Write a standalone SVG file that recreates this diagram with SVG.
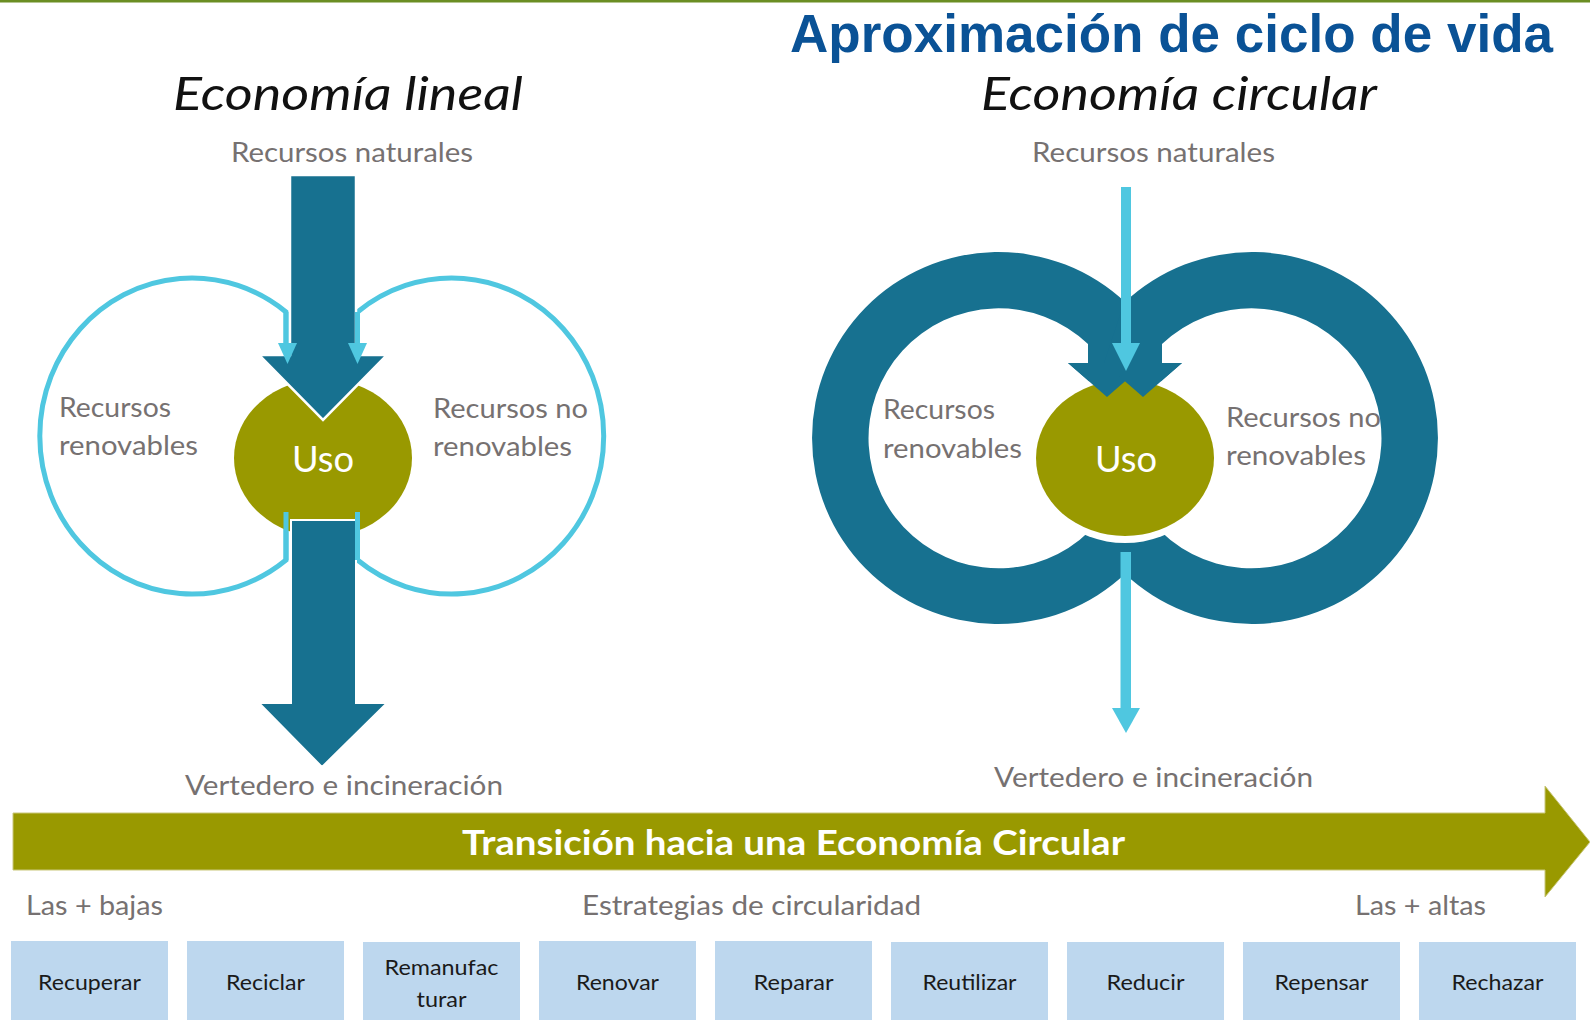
<svg xmlns="http://www.w3.org/2000/svg" width="1590" height="1020" viewBox="0 0 1590 1020">
<style>
.lbl{font-family:Lato,"Open Sans","Liberation Sans",sans-serif;font-size:27px;fill:#767171}
.ttl{font-family:Lato,"Open Sans","Liberation Sans",sans-serif;font-size:46px;font-style:italic;font-weight:400;fill:#111}
.uso{font-family:Lato,"Open Sans","Liberation Sans",sans-serif;font-size:37px;fill:#fff}
.box{fill:#bdd7ee}
.bt{font-family:Lato,"Open Sans","Liberation Sans",sans-serif;font-size:21px;fill:#1a1a1a}
.dark{fill:#177190}
.cyan{fill:#4fc7e0}
.cl{fill:none;stroke:#4fc7e0;stroke-width:5}
.olive{fill:#999900}
</style>
<rect x="0" y="0" width="1590" height="1020" fill="#fff"/>
<rect x="0" y="0" width="1590" height="2.5" fill="#6b8e23"/>
<text x="790" y="52" font-family="'Liberation Sans',Arial,sans-serif" font-weight="bold" font-size="53" fill="#0a5296" textLength="763" lengthAdjust="spacingAndGlyphs">Aproximación de ciclo de vida</text>

<!-- Linear economy -->
<g id="linear-title"><text class="ttl" x="173" y="110" textLength="350" lengthAdjust="spacingAndGlyphs">Economía lineal</text></g>
<g id="linear-recursos-naturales"><text class="lbl" x="231" y="162" textLength="242" lengthAdjust="spacingAndGlyphs">Recursos naturales</text></g>
<g id="linear-renovables">
<path class="cl" d="M286 343 L286 312 A152 158 0 1 0 286 560 L286 512"/>
<text class="lbl" x="59" y="417" textLength="112" lengthAdjust="spacingAndGlyphs">Recursos</text>
<text class="lbl" x="59" y="455" textLength="139" lengthAdjust="spacingAndGlyphs">renovables</text>
</g>
<g id="linear-no-renovables">
<path class="cl" d="M357.5 343 L357.5 312 A152 158 0 1 1 357.5 560 L357.5 512"/>
<text class="lbl" x="433" y="418" textLength="155" lengthAdjust="spacingAndGlyphs">Recursos no</text>
<text class="lbl" x="433" y="456" textLength="139" lengthAdjust="spacingAndGlyphs">renovables</text>
</g>
<g id="linear-uso">
<ellipse class="olive" cx="323" cy="458" rx="89" ry="79"/>
</g>
<g id="linear-connectors">
<polygon class="dark" stroke="#fff" stroke-width="2.5" stroke-linejoin="miter" points="290,175 356,175 356,355 387,355 323,420 259,355 290,355"/>
<polygon class="dark" stroke="#fff" stroke-width="2" points="291,520 356,520 356,703 387,703 322,767 259,703 291,703"/>
<polygon class="cyan" points="278,343 297,343 287.5,364"/>
<polygon class="cyan" points="348,343 367,343 357.5,364"/>
<line x1="286" y1="512" x2="286" y2="560" stroke="#4fc7e0" stroke-width="5"/>
<line x1="357.5" y1="512" x2="357.5" y2="560" stroke="#4fc7e0" stroke-width="5"/>
<line x1="286" y1="312" x2="286" y2="345" stroke="#4fc7e0" stroke-width="5"/>
<line x1="357.5" y1="312" x2="357.5" y2="345" stroke="#4fc7e0" stroke-width="5"/>
</g>
<text class="uso" x="323" y="472" text-anchor="middle" textLength="62" lengthAdjust="spacingAndGlyphs">Uso</text>
<g id="linear-vertedero"><text class="lbl" x="185" y="795" textLength="318" lengthAdjust="spacingAndGlyphs">Vertedero e incineración</text></g>

<!-- Circular economy -->
<g id="circular-title"><text class="ttl" x="981" y="110" textLength="396" lengthAdjust="spacingAndGlyphs">Economía circular</text></g>
<g id="circular-recursos-naturales"><text class="lbl" x="1032" y="162" textLength="243" lengthAdjust="spacingAndGlyphs">Recursos naturales</text></g>
<g id="circular-loops">
<path class="dark" d="M1126 573 A186 186 0 1 1 1126 303 L1146 363 L1107 397 L1068 363 L1088 363 L1088 344 A130 130 0 1 0 1098 522 L1126 522 Z"/>
<path class="dark" d="M1124 573 A186 186 0 1 0 1124 303 L1104 363 L1143 397 L1182 363 L1162 363 L1162 344 A130 130 0 1 1 1152 522 L1124 522 Z"/>
</g>
<g id="circular-renovables">
<text class="lbl" x="883" y="419" textLength="112" lengthAdjust="spacingAndGlyphs">Recursos</text>
<text class="lbl" x="883" y="458" textLength="139" lengthAdjust="spacingAndGlyphs">renovables</text>
</g>
<g id="circular-no-renovables">
<text class="lbl" x="1226" y="427" textLength="155" lengthAdjust="spacingAndGlyphs">Recursos no</text>
<text class="lbl" x="1226" y="465" textLength="140" lengthAdjust="spacingAndGlyphs">renovables</text>
</g>
<g id="circular-uso">
<ellipse cx="1125" cy="459" rx="94" ry="84" fill="#fff"/>
<ellipse class="olive" cx="1125" cy="458" rx="89" ry="78"/>
<polygon class="dark" points="1068,363 1146,363 1107,397"/>
<polygon class="dark" points="1104,363 1182,363 1143,397"/>
<text class="uso" x="1126" y="472" text-anchor="middle" textLength="62" lengthAdjust="spacingAndGlyphs">Uso</text>
</g>
<g id="circular-connectors">
<rect class="cyan" x="1121" y="187" width="10" height="158"/>
<polygon class="cyan" points="1112,343 1140,343 1126,371"/>
<rect class="cyan" x="1120.5" y="552" width="10.5" height="158"/>
<polygon class="cyan" points="1112,708 1140,708 1126,733"/>
</g>
<g id="circular-vertedero"><text class="lbl" x="994" y="787" textLength="319" lengthAdjust="spacingAndGlyphs">Vertedero e incineración</text></g>

<!-- Transition -->
<g id="transition">
<polygon class="olive" stroke="#c9c77a" stroke-width="1" points="13,813 1545,813 1545,786 1590,842 1545,897 1545,870 13,870"/>
<text x="462" y="855" font-family="Lato,'Open Sans','Liberation Sans',sans-serif" font-weight="bold" font-size="35" fill="#fff" textLength="663" lengthAdjust="spacingAndGlyphs">Transición hacia una Economía Circular</text>
</g>
<g id="legend">
<text class="lbl" x="26" y="915" textLength="137" lengthAdjust="spacingAndGlyphs">Las + bajas</text>
<text class="lbl" x="582" y="915" textLength="339" lengthAdjust="spacingAndGlyphs">Estrategias de circularidad</text>
<text class="lbl" x="1355" y="915" textLength="131" lengthAdjust="spacingAndGlyphs">Las + altas</text>
</g>
<g id="box-recuperar"><rect class="box" x="11" y="941" width="157" height="79"/><text class="bt" x="89.5" y="990" text-anchor="middle" textLength="103" lengthAdjust="spacingAndGlyphs">Recuperar</text></g>
<g id="box-reciclar"><rect class="box" x="187" y="941" width="157" height="79"/><text class="bt" x="265.5" y="990" text-anchor="middle" textLength="79" lengthAdjust="spacingAndGlyphs">Reciclar</text></g>
<g id="box-remanufacturar"><rect class="box" x="363" y="942" width="157" height="78"/><text class="bt" x="441.5" y="975" text-anchor="middle" textLength="114" lengthAdjust="spacingAndGlyphs">Remanufac</text><text class="bt" x="441.5" y="1007" text-anchor="middle" textLength="50" lengthAdjust="spacingAndGlyphs">turar</text></g>
<g id="box-renovar"><rect class="box" x="539" y="941" width="157" height="79"/><text class="bt" x="617.5" y="990" text-anchor="middle" textLength="83" lengthAdjust="spacingAndGlyphs">Renovar</text></g>
<g id="box-reparar"><rect class="box" x="715" y="941" width="157" height="79"/><text class="bt" x="793.5" y="990" text-anchor="middle" textLength="80" lengthAdjust="spacingAndGlyphs">Reparar</text></g>
<g id="box-reutilizar"><rect class="box" x="891" y="942" width="157" height="78"/><text class="bt" x="969.5" y="990" text-anchor="middle" textLength="94" lengthAdjust="spacingAndGlyphs">Reutilizar</text></g>
<g id="box-reducir"><rect class="box" x="1067" y="942" width="157" height="78"/><text class="bt" x="1145.5" y="990" text-anchor="middle" textLength="78" lengthAdjust="spacingAndGlyphs">Reducir</text></g>
<g id="box-repensar"><rect class="box" x="1243" y="942" width="157" height="78"/><text class="bt" x="1321.5" y="990" text-anchor="middle" textLength="94" lengthAdjust="spacingAndGlyphs">Repensar</text></g>
<g id="box-rechazar"><rect class="box" x="1419" y="942" width="157" height="78"/><text class="bt" x="1497.5" y="990" text-anchor="middle" textLength="92" lengthAdjust="spacingAndGlyphs">Rechazar</text></g>
</svg>
